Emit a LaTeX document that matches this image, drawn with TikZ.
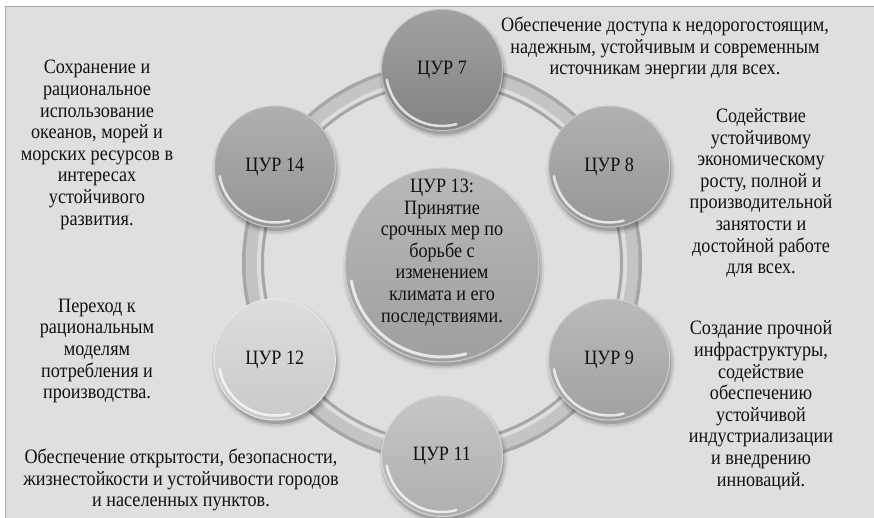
\documentclass[tikz,border=0pt]{standalone}
\usepackage{fontspec}
\setmainfont{Liberation Serif}[FakeStretch=0.89]
\usetikzlibrary{calc}
\definecolor{bg}{HTML}{DFDFDF}
\definecolor{framec}{HTML}{A8A8A8}
\definecolor{ringA}{HTML}{A6A6A6}
\definecolor{ringB}{HTML}{C4C4C4}
\definecolor{g7}{HTML}{8C8C8C}
\definecolor{g8}{HTML}{A0A0A0}
\definecolor{g9}{HTML}{ABABAB}
\definecolor{g11}{HTML}{BABABA}
\definecolor{g12}{HTML}{D6D6D6}
\definecolor{g14}{HTML}{9E9E9E}
\definecolor{g13}{HTML}{A9A9A9}
\definecolor{txtc}{HTML}{111111}
\newcommand\mysoftshadow[2]{%
  \foreach \k/\o in {0/0.16,2/0.09,4/0.05} {%
    \fill[black,opacity=\o] ($(#1)+(1.5pt,-4pt)$) circle[radius=#2pt+\k pt];}}
\tikzset{
  txt/.style={align=center, font=\rmfamily\fontsize{20.4}{21.6}\selectfont, inner sep=0pt, text=txtc},
  goal/.style={circle, minimum size=121pt, inner sep=0pt,
    top color=#1!82!white, bottom color=#1!94!black,
    draw=#1!55!white, line width=1pt, text=txtc,
    font=\rmfamily\fontsize{20.4}{21.6}\selectfont,
    path picture={\draw[white,opacity=0.75,line width=2.5pt,line cap=round]
      ($(path picture bounding box.center)+(190:56pt)$) arc[start angle=190,end angle=285,radius=56pt];}},
  biggoal/.style={circle, minimum size=194pt, inner sep=0pt,
    top color=#1!82!white, bottom color=#1!94!black,
    draw=#1!55!white, line width=1pt,
    path picture={\draw[white,opacity=0.75,line width=3pt,line cap=round]
      ($(path picture bounding box.center)+(190:92pt)$) arc[start angle=190,end angle=285,radius=92pt];}},
}
\begin{document}
\begin{tikzpicture}[x=1pt,y=1pt]
\useasboundingbox (0,0) rectangle (874,518);
\fill[white] (0,0) rectangle (874,518);
\filldraw[fill=bg, draw=framec, line width=1pt] (5.5,-5) rectangle (880,511);
\coordinate (O) at (442,255);
% ring
\draw[ringA, line width=22pt] (O) circle[radius=189pt];
\draw[ringB, line width=15pt] (O) circle[radius=189pt];
\draw[white, opacity=0.45, line width=4pt] (O) circle[radius=183pt];
% centre
\coordinate (p13) at (442,253);
\mysoftshadow{p13}{97}
\node[biggoal=g13] (c13) at (p13) {};
\node[txt] (t13) at (442,265.5) {ЦУР 13:\\Принятие\\срочных мер по\\борьбе с\\изменением\\климата и его\\последствиями.};
% satellites
\coordinate (p7) at ($(O)+(90:193pt)$);
\coordinate (p8) at ($(O)+(30:193pt)$);
\coordinate (p9) at ($(O)+(-30:193pt)$);
\coordinate (p11) at ($(O)+(-90:193pt)$);
\coordinate (p12) at ($(O)+(210:193pt)$);
\coordinate (p14) at ($(O)+(150:193pt)$);
\foreach \p in {p7,p8,p9,p11,p12,p14} {\mysoftshadow{\p}{60.5}}
\node[goal=g7] (c7) at (p7) {ЦУР 7};
\node[goal=g8] (c8) at (p8) {ЦУР 8};
\node[goal=g9] (c9) at (p9) {ЦУР 9};
\node[goal=g11] (c11) at (p11) {ЦУР 11};
\node[goal=g12] (c12) at (p12) {ЦУР 12};
\node[goal=g14] (c14) at (p14) {ЦУР 14};
% descriptions
\node[txt] (t7) at (665,470) {Обеспечение доступа к недорогостоящим,\\надежным, устойчивым и современным\\источникам энергии для всех.};
\node[txt] (t8) at (761,325) {Содействие\\устойчивому\\экономическому\\росту, полной и\\производительной\\занятости и\\достойной работе\\для всех.};
\node[txt] (t9) at (761,112.5) {Создание прочной\\инфраструктуры,\\содействие\\обеспечению\\устойчивой\\индустриализации\\и внедрению\\инноваций.};
\node[txt] (t11) at (181,38) {Обеспечение открытости, безопасности,\\жизнестойкости и устойчивости городов\\и населенных пунктов.};
\node[txt] (t12) at (97,167) {Переход к\\рациональным\\моделям\\потребления и\\производства.};
\node[txt] (t14) at (97,373) {Сохранение и\\рациональное\\использование\\океанов, морей и\\морских ресурсов в\\интересах\\устойчивого\\развития.};
\end{tikzpicture}
\end{document}
